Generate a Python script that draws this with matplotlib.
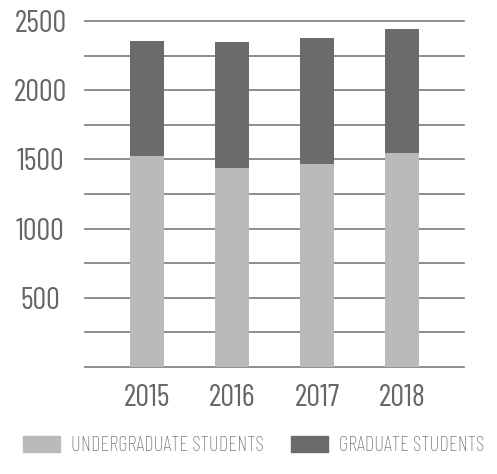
import matplotlib.pyplot as plt
import numpy as np
from matplotlib.patches import Patch

years = ['2015', '2016', '2017', '2018']
undergrad = [1527, 1440, 1467, 1546]
graduate = [828, 908, 910, 896]
ytick_labels = ['500', '1000', '1500', '2000', '2500']

light = '#bababa'
dark = '#6b6b6b'
txt = '#666666'

plt.rcParams['font.family'] = ['Barlow Condensed', 'DejaVu Sans']

fig = plt.figure(figsize=(4.97, 4.74), dpi=100)
ax = fig.add_axes([0.171, 0.2257, 0.763, 0.73])

x = np.arange(len(years))
ax.bar(x, undergrad, width=0.4, color=light, zorder=3)
ax.bar(x, graduate, width=0.4, bottom=undergrad, color=dark, zorder=3)

# gridlines every 250
for v in np.arange(0, 2501, 250):
    ax.axhline(v, color='#7a7a7a', lw=1.2, zorder=1, clip_on=False)

ax.set_xlim(-0.73, 3.73)
ax.set_ylim(0, 2500)
ax.set_yticks([int(t) for t in ytick_labels])
ax.set_yticklabels(ytick_labels)
ax.set_xticks(x)
ax.set_xticklabels(years)
for lab in ax.get_yticklabels():
    lab.set_horizontalalignment('center')
ax.tick_params(axis='y', length=0, pad=32, labelsize=22, labelcolor=txt)
ax.tick_params(axis='x', length=0, pad=12, labelsize=22, labelcolor=txt)
for s in ax.spines.values():
    s.set_visible(False)

handles = [Patch(color=light, label='UNDERGRADUATE STUDENTS'),
           Patch(color=dark, label='GRADUATE STUDENTS')]
leg = fig.legend(handles=handles, loc='lower center', bbox_to_anchor=(0.51, 0.0),
                 ncol=2, frameon=False, prop={'size': 15, 'weight': 'light'},
                 handlelength=1.8, handleheight=0.8, handletextpad=0.5,
                 columnspacing=1.3)
for t in leg.get_texts():
    t.set_color(txt)

fig.savefig('out.png', dpi=100)
